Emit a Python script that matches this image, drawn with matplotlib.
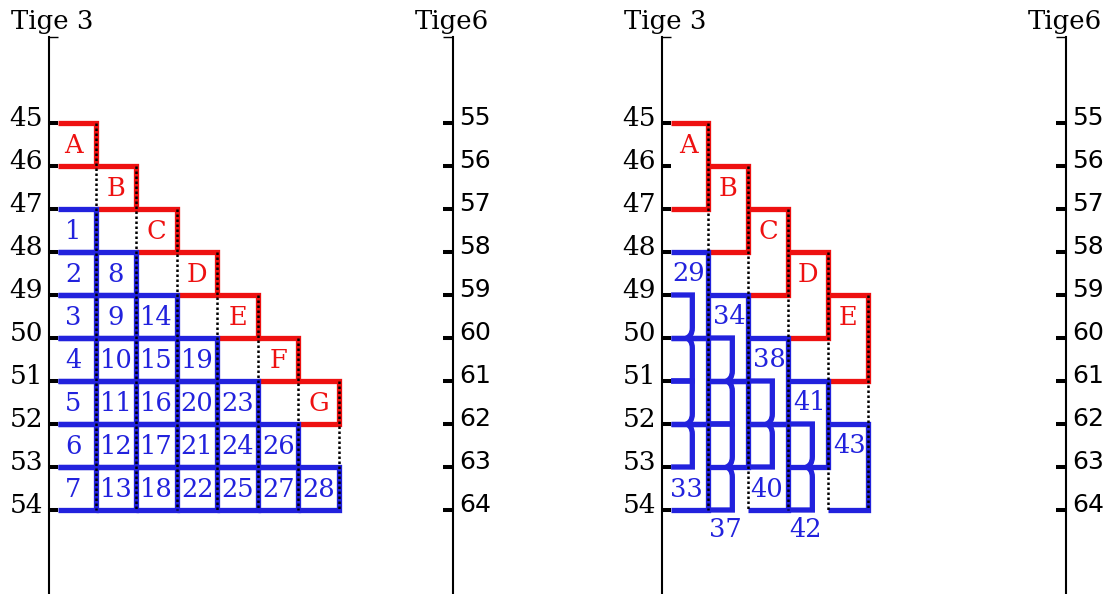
import matplotlib
matplotlib.use("Agg")
import matplotlib.pyplot as plt
import matplotlib.transforms as mtransforms
from matplotlib.path import Path
from matplotlib.patches import PathPatch

# ---------------- data ----------------
left_ticks = [45, 46, 47, 48, 49, 50, 51, 52, 53, 54]
right_ticks = [55, 56, 57, 58, 59, 60, 61, 62, 63, 64]
left_title = "Tige 3"
right_title = "Tige6"

left_letters = ["A", "B", "C", "D", "E", "F", "G"]
left_cells = [
    [1, 2, 3, 4, 5, 6, 7],
    [8, 9, 10, 11, 12, 13],
    [14, 15, 16, 17, 18],
    [19, 20, 21, 22],
    [23, 24, 25],
    [26, 27],
    [28],
]

right_letters = ["A", "B", "C", "D", "E"]
right_cells = [
    [29, 30, 31, 32, 33],
    [34, 35, 36, 37],
    [38, 39, 40],
    [41, 42],
    [43],
]

# ---------------- style ----------------
W, H = 1110, 594
BLUE = "#2222dd"
RED = "#ee1111"
LW = 3.8
DOT_LW = 1.8
SERIF = "DejaVu Serif"
SANS = "DejaVu Sans"
START = 0.07
CELL_FS = 18.5
TICK_FS = 19
TITLE_FS = 18.7

fig = plt.figure(figsize=(W / 100, H / 100), dpi=100)

top_px, bot_px = 37, 596


def make_axes(left_px, xlim):
    ax = fig.add_axes([left_px / W, (H - bot_px) / H, 404 / W, (bot_px - top_px) / H])
    ax.set_xlim(*xlim)
    ax.set_ylim(56, 43)
    ax.set_xticks([])
    for s in ("top", "bottom", "right"):
        ax.spines[s].set_visible(False)
    ax.spines["left"].set_linewidth(1.5)
    ax.set_yticks(left_ticks)
    ax.set_yticklabels([str(t) for t in left_ticks], fontfamily=SERIF)
    ax.set_yticks([43], minor=True)
    ax.tick_params(axis="y", which="major", direction="in", length=6.5, width=2.9,
                   pad=4.3, labelsize=TICK_FS)
    ax.tick_params(axis="y", which="minor", direction="in", length=6.5, width=1.0)
    ax.patch.set_alpha(0)

    ax2 = ax.twinx()
    ax2.set_ylim(66, 53)
    for s in ("top", "bottom", "left"):
        ax2.spines[s].set_visible(False)
    ax2.spines["right"].set_linewidth(1.5)
    ax2.set_yticks(right_ticks)
    ax2.set_yticklabels([str(t) for t in right_ticks], fontfamily=SANS)
    ax2.set_yticks([53], minor=True)
    ax2.tick_params(axis="y", which="major", direction="in", length=7, width=2.9,
                    pad=4.3, labelsize=18)
    ax2.tick_params(axis="y", which="minor", direction="in", length=7, width=1.0)

    shift = mtransforms.ScaledTranslation(0, 7 / 100, fig.dpi_scale_trans)
    for a in (ax, ax2):
        for lbl in a.get_yticklabels():
            lbl.set_transform(lbl.get_transform() + shift)

    ax.annotate(left_title, xy=(0, 1), xycoords="axes fraction", xytext=(3, 8),
                textcoords="offset pixels", ha="center", va="baseline",
                fontsize=TITLE_FS, fontfamily=SERIF)
    ax.annotate(right_title, xy=(1, 1), xycoords="axes fraction", xytext=(-1, 8),
                textcoords="offset pixels", ha="center", va="baseline",
                fontsize=TITLE_FS, fontfamily=SERIF)
    return ax


def rect(ax, x0, x1, r0, r1, color):
    ax.plot([x0, x1, x1, x0], [r0, r0, r1, r1], color=color, lw=LW,
            solid_joinstyle="miter", solid_capstyle="butt", zorder=2)


def brace_cell(ax, x0, xv, r0, r1, color, a=0.14, h=0.24):
    m = (r0 + r1) / 2
    verts = [(x0, r0), (xv, r0), (xv, m - h),
             (xv, m - 0.35 * h), (xv - 0.55 * a, m - 0.12 * h), (xv - a, m),
             (xv - 0.55 * a, m + 0.12 * h), (xv, m + 0.35 * h), (xv, m + h),
             (xv, r1), (x0, r1)]
    codes = [Path.MOVETO, Path.LINETO, Path.LINETO,
             Path.CURVE4, Path.CURVE4, Path.CURVE4,
             Path.CURVE4, Path.CURVE4, Path.CURVE4,
             Path.LINETO, Path.LINETO]
    ax.add_patch(PathPatch(Path(verts, codes), fill=False, edgecolor=color, lw=LW,
                           joinstyle="miter", capstyle="butt", zorder=2))


def dotted(ax, b, r0, r1):
    ax.plot([b, b], [r0, r1], color="black", lw=DOT_LW, ls=(0, (1, 1)), zorder=3)


def label(ax, x, y, s, color):
    ax.text(x, y, s, color=color, fontsize=CELL_FS, fontfamily=SERIF,
            ha="center", va="center", zorder=4)


# ---------------- left panel ----------------
axL = make_axes(49, (-0.152, 9.81))
first_x_L = 0.44
for k, let in enumerate(left_letters):
    x0 = START if k == 0 else k
    rect(axL, x0, k + 1, 45 + k, 46 + k, RED)
    label(axL, first_x_L if k == 0 else k + 0.5, 45 + k + 0.52, let, RED)
for c, col in enumerate(left_cells):
    x0 = START if c == 0 else c
    for i, num in enumerate(col):
        r = 47 + c + i
        rect(axL, x0, c + 1, r, r + 1, BLUE)
        label(axL, first_x_L if c == 0 else c + 0.5, r + 0.52, str(num), BLUE)
for b in range(1, len(left_letters) + 1):
    dotted(axL, b, 44 + b, 54)

# ---------------- right panel ----------------
axR = make_axes(662, (-0.158, 9.94))
for k, let in enumerate(right_letters):
    x0 = START if k == 0 else k
    rect(axR, x0, k + 1, 45 + k, 47 + k, RED)
    label(axR, 0.5 if k == 0 else k + 0.5, 45 + k + 0.52, let, RED)
for c, col in enumerate(right_cells):
    x0 = START if c == 0 else c
    s = 48 + c
    for j, num in enumerate(col):
        r0 = s + j
        if j % 2 == 0:
            rect(axR, x0, c + 1, r0, r0 + 2, BLUE)
        else:
            brace_cell(axR, x0, c + 0.6, r0, r0 + 2, BLUE)
    # labels: first cell of the column and last cell
    label(axR, c + 0.52, s + 0.5, str(col[0]), BLUE)
    if len(col) > 1:
        jl = len(col) - 1
        if jl % 2 == 0:
            label(axR, c + 0.46, s + jl + 1.52, str(col[-1]), BLUE)
        else:
            label(axR, c + 0.42, 54.45, str(col[-1]), BLUE)
for b in range(1, len(right_letters) + 1):
    dotted(axR, b, 44 + b, 54)

fig.savefig("out.png", dpi=100)
